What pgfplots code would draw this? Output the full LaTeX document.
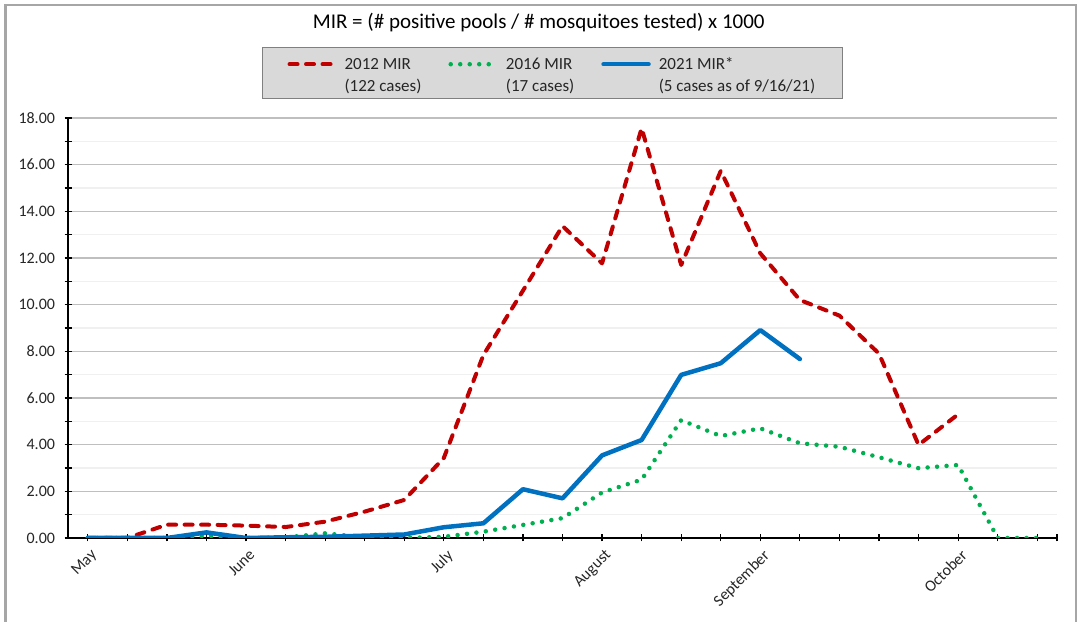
\documentclass[border=0pt]{standalone}
\usepackage{pgfplots}
\pgfplotsset{compat=1.18}
\usepackage{fontspec}
\setmainfont{Carlito}
\definecolor{red12}{HTML}{C00000}
\definecolor{green16}{HTML}{00B050}
\definecolor{blue21}{HTML}{0070C0}
\definecolor{gridmaj}{HTML}{BFBFBF}
\definecolor{gridmin}{HTML}{F0F0F0}
\definecolor{framec}{HTML}{A6A6A6}
\definecolor{legfill}{HTML}{D9D9D9}
\definecolor{legdraw}{HTML}{808080}
\definecolor{txt}{HTML}{262626}
\begin{document}
\begin{tikzpicture}[x=1bp,y=1bp]
\useasboundingbox (0,0) rectangle (1077,622);
\draw[framec, line width=2.5bp] (5.3,-5) -- (5.3,617) -- (1075.8,617) -- (1075.8,-5);
\begin{axis}[
  at={(68bp,84bp)}, anchor=south west,
  width=989bp, height=420bp, scale only axis,
  xmin=-0.5, xmax=24.5, ymin=0, ymax=18,
  axis x line*=bottom, axis y line*=left,
  axis line style={black, line width=1.3bp, -},
  xtick={0,4,9,13,17,22},
  xticklabels={May,June,July,August,September,October},
  extra x ticks={1,2,3,5,6,7,8,10,11,12,14,15,16,18,19,20,21,23,24,24.5},
  extra x tick labels={},
  ytick={0,2,...,18},
  minor ytick={1,3,...,17},
  ymajorgrids, yminorgrids,
  major grid style={gridmaj, line width=1.2bp},
  minor grid style={gridmin, line width=1.2bp},
  tick align=center,
  major tick length=7bp, minor tick length=7bp,
  tick style={black, line width=1.2bp},
  /pgf/number format/assume math mode=true,
  tick label style={font=\fontsize{16bp}{19bp}\selectfont, text=txt},
  yticklabel style={xshift=-6bp, /pgf/number format/fixed, /pgf/number format/fixed zerofill, /pgf/number format/precision=2},
  xticklabel style={rotate=45, anchor=north east, yshift=-3bp},
  title={MIR = (\# positive pools / \# mosquitoes tested) x 1000},
  title style={at={(0.476,1.2)}, anchor=base, font=\fontsize{21bp}{24bp}\selectfont, text=black},
  legend columns=3,
  legend image code/.code={\draw[#1] (0bp,26.8bp) -- (45bp,26.8bp);},
  legend style={at={(0.1965,1.168)}, anchor=north west, fill=legfill, draw=legdraw,
    inner xsep=25bp, inner ysep=4bp,
    cells={anchor=base west, inner sep=0pt},
    /tikz/every odd column/.append style={column sep=6bp},
    /tikz/every even column/.append style={column sep=25bp},
    font=\fontsize{17bp}{22bp}\selectfont, text=txt},
]
\addplot[red12, line width=4bp, line cap=round, line join=round, dash pattern=on 8bp off 8.5bp] coordinates {
(0,0)(1,0)(2,0.57)(3,0.57)(4,0.53)(5,0.47)(6,0.70)(7,1.13)(8,1.63)(9,3.43)(10,7.84)(11,10.6)(12,13.37)(13,11.77)(14,17.56)(15,11.7)(16,15.73)(17,12.2)(18,10.2)(19,9.53)(20,7.9)(21,3.99)(22,5.3)
};
\addlegendentry{\begin{tabular}[b]{@{}l@{}}2012 MIR\\(122 cases)\end{tabular}}
\addplot[green16, line width=4.5bp, line cap=round, line join=round, dash pattern=on 0bp off 9.5bp] coordinates {
(0,0)(1,0)(2,0)(3,0.1)(4,0)(5,0.02)(6,0.2)(7,0.02)(8,0)(9,0.05)(10,0.27)(11,0.56)(12,0.85)(13,1.95)(14,2.5)(15,5.05)(16,4.37)(17,4.7)(18,4.06)(19,3.91)(20,3.46)(21,2.99)(22,3.13)(23,0)(24,0)
};
\addlegendentry{\begin{tabular}[b]{@{}l@{}}2016 MIR\\(17 cases)\end{tabular}}
\addplot[blue21, line width=4.5bp, line cap=round, line join=round] coordinates {
(0,0)(1,0)(2,0)(3,0.24)(4,0)(5,0.03)(6,0.05)(7,0.1)(8,0.15)(9,0.46)(10,0.63)(11,2.09)(12,1.7)(13,3.54)(14,4.2)(15,6.99)(16,7.49)(17,8.91)(18,7.67)
};
\addlegendentry{\begin{tabular}[b]{@{}l@{}}2021 MIR*\\(5 cases as of 9/16/21)\end{tabular}}
\end{axis}
\end{tikzpicture}
\end{document}
